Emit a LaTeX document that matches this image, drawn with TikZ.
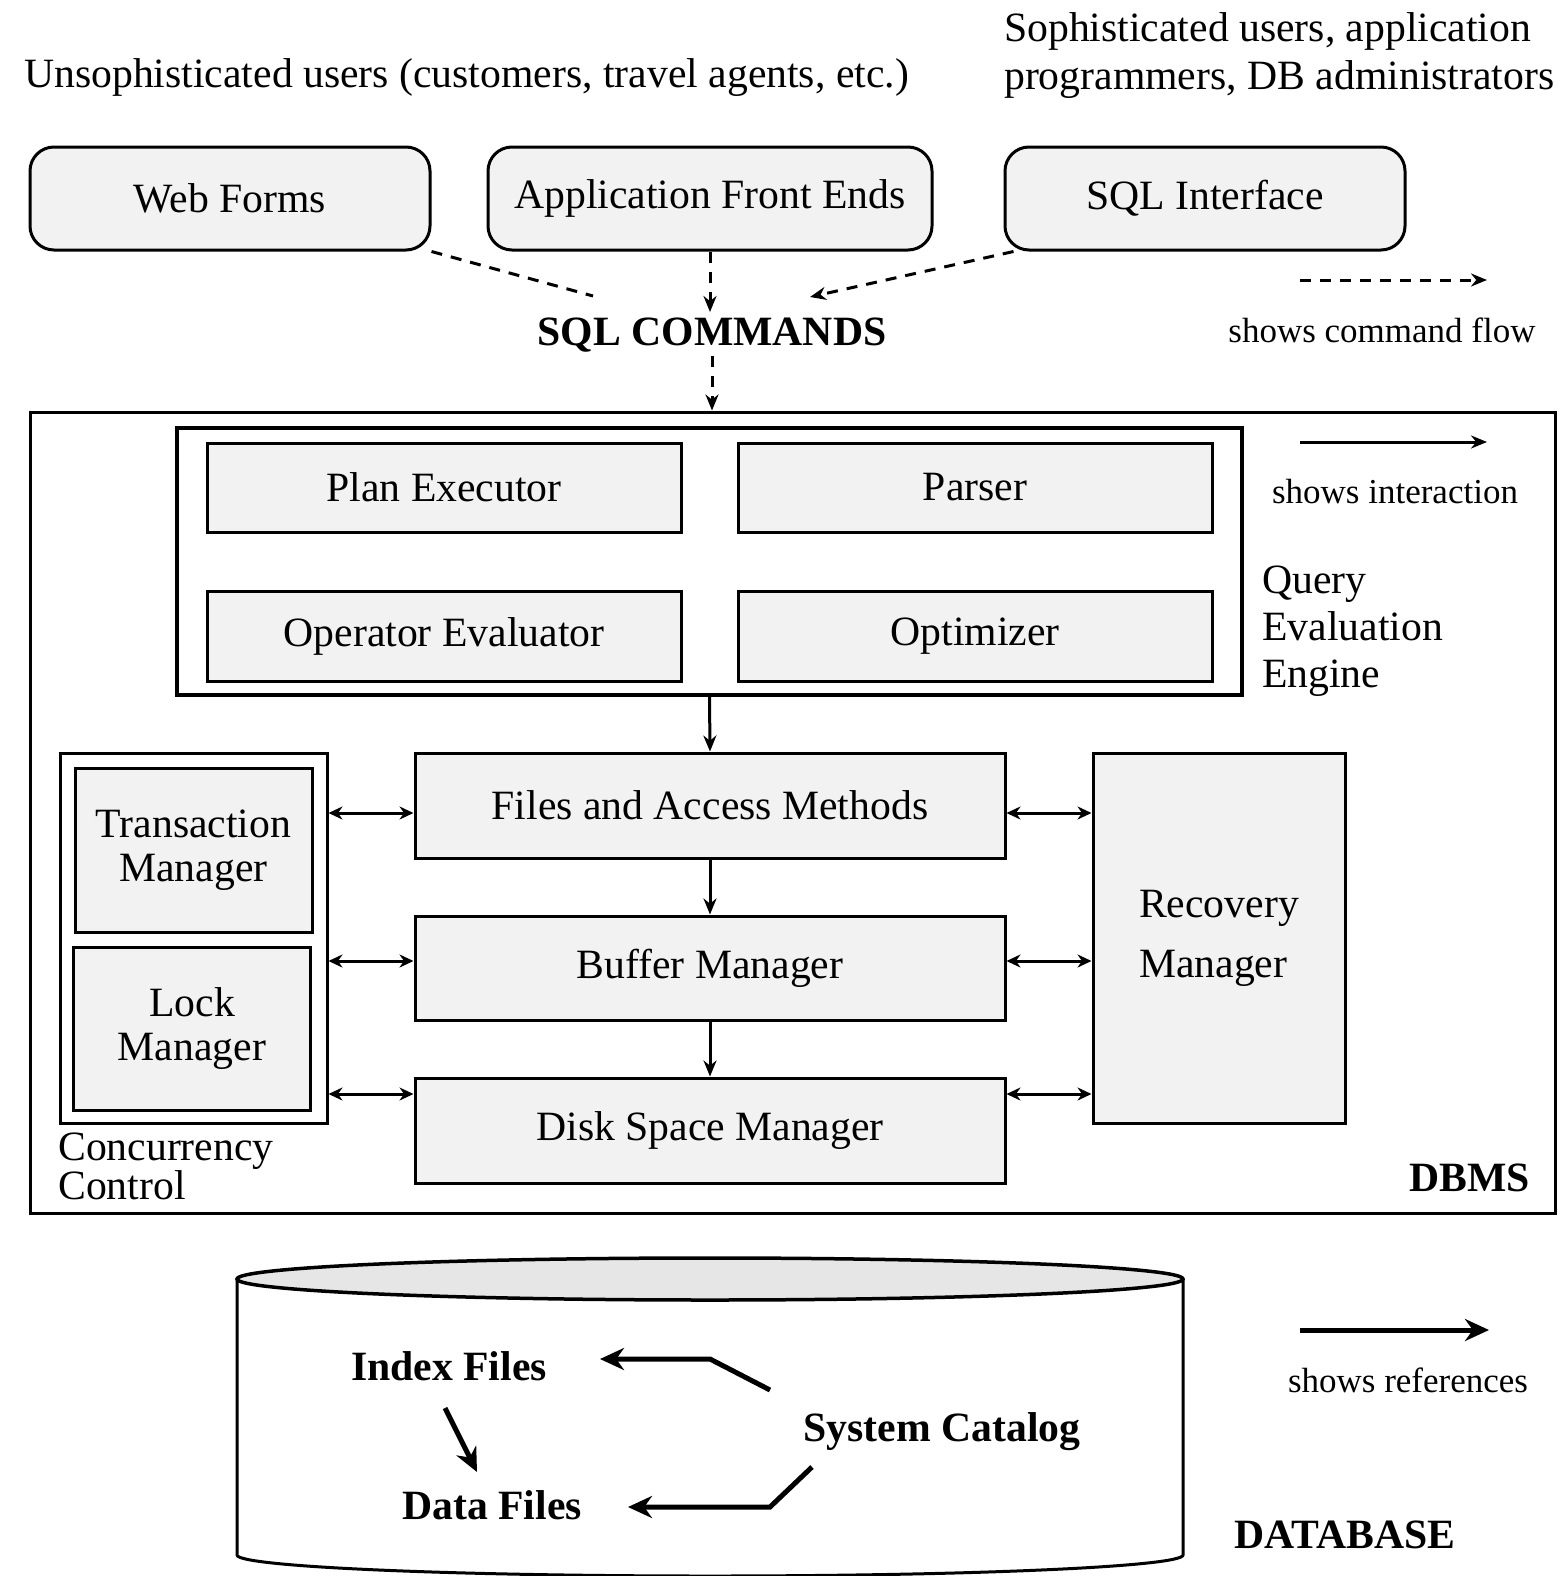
\documentclass[tikz,border=0pt]{standalone}
\usepackage{fontspec}
\setmainfont{Liberation Serif}
\usetikzlibrary{arrows.meta}
\definecolor{boxgray}{HTML}{F2F2F2}
\definecolor{topgray}{HTML}{E6E6E6}
\begin{document}
\begin{tikzpicture}[x=1pt,y=-1pt,
  txt/.style={inner sep=0pt, font=\fontsize{41.7}{47}\selectfont},
  btxt/.style={inner sep=0pt, font=\fontsize{41.7}{47}\selectfont\bfseries},
  small/.style={inner sep=0pt, font=\fontsize{35}{40}\selectfont},
  box/.style={draw, line width=3pt, fill=boxgray, inner sep=0pt, font=\fontsize{41.7}{44}\selectfont, align=center},
  rbox/.style={box, rounded corners=24pt},
  frame/.style={draw, line width=3pt, inner sep=0pt},
  cmdline/.style={line width=3pt, dash pattern=on 11pt off 9pt},
  cmd/.style={cmdline, -{Stealth[length=16pt,width=13pt]}},
  inter/.style={line width=3pt, -{Stealth[length=16pt,width=13pt]}},
  dbl/.style={line width=3pt, {Stealth[length=14pt,width=13pt]}-{Stealth[length=14pt,width=13pt]}},
  ref/.style={line width=5pt, -{Stealth[length=24pt,width=22pt]}}
]
\useasboundingbox (0,0) rectangle (1564,1576);
\clip (0,0) rectangle (1564,1576);

% top labels
\node[txt, anchor=west] (unso) at (24,78) {Unsophisticated users (customers, travel agents, etc.)};
\node[txt, anchor=west, align=left, font=\fontsize{41.7}{48}\selectfont] (soph) at (1004,56) {Sophisticated users, application\\programmers, DB administrators};

% interfaces
\node[rbox, minimum width=400pt, minimum height=103pt] (wf) at (230,198.5) {Web Forms};
\node[rbox, minimum width=444pt, minimum height=103pt] (afe) at (710,198.5) {Application Front Ends};
\node[rbox, minimum width=400pt, minimum height=103pt] (sqli) at (1205,198.5) {SQL Interface};

\node[btxt] (sqlc) at (712,335) {SQL COMMANDS};

% DBMS frame
\node[frame, minimum width=1525pt, minimum height=801pt] (dbms) at (792.5,812.5) {};
\node[frame, line width=3.5pt, minimum width=1065pt, minimum height=267pt] (qee) at (709.5,561.5) {};

\node[box, minimum width=474pt, minimum height=89pt] (pe) at (444,487.5) {Plan Executor};
\node[box, minimum width=474pt, minimum height=89pt] (pa) at (975,487.5) {Parser};
\node[box, minimum width=474pt, minimum height=90pt] (oe) at (444,636) {Operator Evaluator};
\node[box, minimum width=474pt, minimum height=90pt] (op) at (975,636) {Optimizer};

\node[txt, anchor=west, align=left] (qeel) at (1262,631) {Query\\Evaluation\\Engine};

\node[box, minimum width=590pt, minimum height=105pt] (files) at (710,805.5) {Files and Access Methods};
\node[box, minimum width=590pt, minimum height=104pt] (buf) at (710,968) {Buffer Manager};
\node[box, minimum width=590pt, minimum height=105pt] (disk) at (710,1130.5) {Disk Space Manager};

\node[frame, minimum width=267pt, minimum height=370pt] (cc) at (193.5,938) {};
\node[box, minimum width=237pt, minimum height=164pt] (tm) at (193.5,850) {Transaction\\Manager};
\node[box, minimum width=237pt, minimum height=163pt] (lm) at (192,1028.5) {Lock\\Manager};
\node[txt, anchor=north west, align=left, font=\fontsize{41.7}{35}\selectfont] (ccl) at (58,1133) {Concurrency\\Control};

\node[box, minimum width=252pt, minimum height=370pt, align=left, font=\fontsize{41.7}{60}\selectfont] (rm) at (1219,938) {Recovery\\Manager};

\node[btxt, anchor=east] (dbmsl) at (1530,1178) {DBMS};

% command flow
\coordinate (wfend) at (593,296);
\coordinate (afeend) at (710,312);
\coordinate (sqliend) at (810,297);
\draw[cmdline] (wf.south east) -- (wfend);
\draw[cmd] (afe.south) -- (afeend);
\draw[cmd] ([xshift=10pt]sqli.south west) -- (sqliend);
\draw[cmd] (sqlc.south) ++(0,4) -- (sqlc.south |- dbms.north);

% interactions
\draw[inter] (qee.south) -- (files.north);
\draw[inter] (files.south) -- (buf.north);
\draw[inter] (buf.south) -- (disk.north);

\coordinate (ya) at (0,813);
\coordinate (yb) at (0,961);
\coordinate (yc) at (0,1094);
\draw[dbl] (cc.east |- ya) -- (files.west |- ya);
\draw[dbl] (cc.east |- yb) -- (buf.west |- yb);
\draw[dbl] (cc.east |- yc) -- (disk.west |- yc);
\draw[dbl] (files.east |- ya) -- (rm.west |- ya);
\draw[dbl] (buf.east |- yb) -- (rm.west |- yb);
\draw[dbl] (disk.east |- yc) -- (rm.west |- yc);

% legend
\coordinate (l1a) at (1300,280); \coordinate (l1b) at (1487,280);
\draw[cmd] (l1a) -- (l1b);
\node[small] (l1t) at (1382,330) {shows command flow};
\coordinate (l2a) at (1300,442); \coordinate (l2b) at (1487,442);
\draw[inter] (l2a) -- (l2b);
\node[small] (l2t) at (1395,492) {shows interaction};
\coordinate (l3a) at (1300,1330); \coordinate (l3b) at (1489,1330);
\draw[ref] (l3a) -- (l3b);
\node[small] (l3t) at (1408,1380) {shows references};

% database cylinder
\draw[line width=3pt] (237,1279) -- (237,1555) arc[start angle=180, end angle=360, x radius=473pt, y radius=21pt] -- (1183,1279);
\draw[line width=3.5pt, fill=topgray] (710,1279) ellipse [x radius=473pt, y radius=21pt];

\node[btxt] (idx) at (449,1366) {Index Files};
\node[btxt] (dat) at (492,1505) {Data Files};
\node[btxt] (sc) at (942,1432) {System Catalog};
\node[btxt] (dbl) at (1345,1535) {DATABASE};

\coordinate (c1) at (770,1390);
\coordinate (c2) at (710,1359);
\coordinate (ie) at (600,1359);
\coordinate (c3) at (812,1467);
\coordinate (c4) at (770,1507);
\coordinate (de) at (628,1507);
\coordinate (ia) at (445,1408);
\coordinate (da) at (477,1472);
\draw[ref] (c1) -- (c2) -- (ie);
\draw[ref] (c3) -- (c4) -- (de);
\draw[ref] (ia) -- (da);
\end{tikzpicture}
\end{document}
